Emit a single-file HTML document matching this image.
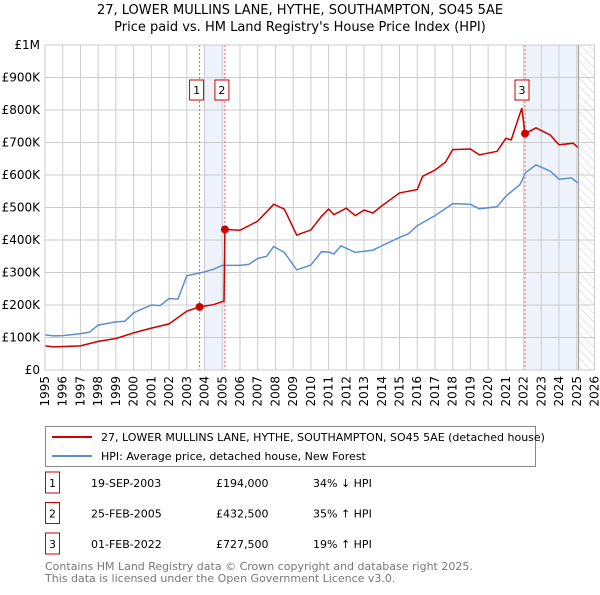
<!DOCTYPE html>
<html><head><meta charset="utf-8"><style>
body{margin:0;background:#fff;font-family:"Liberation Sans","DejaVu Sans",sans-serif;}
svg text{font-family:"DejaVu Sans","Liberation Sans",sans-serif;}
</style></head><body>
<svg id="c" width="600" height="590" viewBox="0 0 600 590" xmlns="http://www.w3.org/2000/svg">
<defs><pattern id="hatch" width="6" height="6" patternUnits="userSpaceOnUse" patternTransform="rotate(-45)"><line x1="0" y1="0" x2="0" y2="6" stroke="#ccc" stroke-width="1"/></pattern></defs>
<text x="300" y="14" text-anchor="middle" font-size="13" fill="#000">27, LOWER MULLINS LANE, HYTHE, SOUTHAMPTON, SO45 5AE</text>
<text x="300" y="31" text-anchor="middle" font-size="13" fill="#000">Price paid vs. HM Land Registry's House Price Index (HPI)</text>
<g id="plot"></g>
<g>
<rect x="45.5" y="426.5" width="490" height="40" fill="#fff" stroke="#888"/>
<line x1="52" y1="437" x2="92" y2="437" stroke="#cc0000" stroke-width="2"/>
<text x="101" y="441" font-size="11">27, LOWER MULLINS LANE, HYTHE, SOUTHAMPTON, SO45 5AE (detached house)</text>
<line x1="52" y1="456" x2="92" y2="456" stroke="#5b8fd0" stroke-width="2"/>
<text x="101" y="460" font-size="11">HPI: Average price, detached house, New Forest</text>
</g>
<g id="table" font-size="11"></g>
<text x="45" y="570" font-size="11" fill="#777">Contains HM Land Registry data © Crown copyright and database right 2025.</text>
<text x="45" y="582" font-size="11" fill="#777">This data is licensed under the Open Government Licence v3.0.</text>
</svg>
<script>
const hpiYears=[1995,1995.5,1996,1997,1997.5,1998,1999,1999.5,2000,2001,2001.5,2002,2002.5,2003,2004,2004.5,2005,2006,2006.5,2007,2007.5,2007.9,2008.5,2009.2,2010,2010.6,2011,2011.3,2011.7,2012.5,2013.5,2014,2015,2015.5,2016,2017,2018,2019,2019.5,2020.5,2021,2021.8,2022.1,2022.7,2023.5,2024,2024.7,2025.05];
const hpiValues=[108,105,106,112,116,138,148,150,176,200,198,220,218,290,302,310,322,322,325,343,350,380,362,308,323,364,363,357,382,362,369,382,408,419,444,475,512,510,496,502,535,571,607,631,612,587,591,576];
const redYears=[1995,1995.5,1997,1998,1999,2000,2001,2002,2003,2003.72,2004.5,2005.1,2005.15,2006,2007,2007.9,2008.5,2009.2,2010,2010.6,2011,2011.3,2012,2012.5,2013,2013.5,2014,2015,2016,2016.3,2017,2017.6,2018,2019,2019.5,2020.5,2021,2021.3,2021.9,2022.08,2022.7,2023.5,2024,2024.8,2025.05];
const redValues=[74,71,74,88,97,114,129,142,181,194,201,212,432.5,430,458,510,495,415,431,473,495,478,498,475,492,483,505,545,555,596,615,640,678,680,662,673,713,708,806,727.5,745,723,693,698,685];
const saleYears=[2003.72,2005.15,2022.08];
const saleValues=[194,432.5,727.5];
const saleLabels=["1","2","3"];
const saleDates=["19-SEP-2003","25-FEB-2005","01-FEB-2022"];
const salePrices=["£194,000","£432,500","£727,500"];
const saleHpi=["34% ↓ HPI","35% ↑ HPI","19% ↑ HPI"];
const yTicks=[0,100,200,300,400,500,600,700,800,900,1000];
const yTickLabels=["£0","£100K","£200K","£300K","£400K","£500K","£600K","£700K","£800K","£900K","£1M"];
const xTicks=[1995,1996,1997,1998,1999,2000,2001,2002,2003,2004,2005,2006,2007,2008,2009,2010,2011,2012,2013,2014,2015,2016,2017,2018,2019,2020,2021,2022,2023,2024,2025,2026];
const NS="http://www.w3.org/2000/svg";
const X0=45,X1=594.5,Y0=370,Y1=45;
const x=v=>X0+(v-1995)/(2026-1995)*(X1-X0);
const y=v=>Y0-v/1000*(Y0-Y1);
const plot=document.getElementById('plot');
function mk(t,a,p){const e=document.createElementNS(NS,t);for(const k in a)e.setAttribute(k,a[k]);(p||plot).appendChild(e);return e;}
let b=mk('rect',{x:x(2004),y:Y1,width:x(2005.15)-x(2004),height:Y0-Y1,fill:'#eef2fb'});


b=mk('rect',{x:x(2022.08),y:Y1,width:x(2025.1)-x(2022.08),height:Y0-Y1,fill:'#eef2fb'});


b=mk('rect',{x:x(2025.1),y:Y1,width:X1-x(2025.1),height:Y0-Y1,fill:'url(#hatch)'});


yTicks.forEach((t,i)=>{
 let l=mk('line',{x1:X0,x2:X1,y1:y(t),y2:y(t),stroke:'#ccc','stroke-width':1});
 
 
 let tx=mk('text',{x:X0-5,y:y(t)+4,'text-anchor':'end','font-size':12});
 tx.textContent=yTickLabels[i];
 
 
});
xTicks.forEach(t=>{
 let l=mk('line',{x1:x(t),x2:x(t),y1:Y1,y2:Y0,stroke:'#ccc','stroke-width':1});
 
 
 let tx=mk('text',{x:0,y:0,'text-anchor':'end','font-size':12,transform:`translate(${x(t)+4},376) rotate(-90)`});
 tx.textContent=t;
 
 
});
let ed=mk('line',{x1:x(2025.1),x2:x(2025.1),y1:Y1,y2:Y0,stroke:'#999','stroke-width':1});


saleYears.forEach(s=>{
 let l=mk('line',{x1:x(s),x2:x(s),y1:Y1,y2:Y0,stroke:'#e66','stroke-width':1,'stroke-dasharray':'2,2'});
 
 
});
function path(xs,vs){return xs.map((v,i)=>(i?'L':'M')+x(v).toFixed(1)+','+y(vs[i]).toFixed(1)).join('');}
let hp=mk('path',{d:path(hpiYears,hpiValues),fill:'none',stroke:'#5b8fd0','stroke-width':1.5});


let rp=mk('path',{d:path(redYears,redValues),fill:'none',stroke:'#cc0000','stroke-width':1.5});


saleYears.forEach((s,i)=>{
 let c=mk('circle',{cx:x(s),cy:y(saleValues[i]),r:4,fill:'#cc0000'});
 
 
 let bx=x(s)-10;
 let g=mk('g',{});
 
 
 mk('rect',{x:bx,y:80,width:14,height:20,fill:'#fff',stroke:'#cc0000'},g);
 let t=mk('text',{x:bx+7,y:94,'text-anchor':'middle','font-size':11},g);
 t.textContent=saleLabels[i];
});
let ax=mk('rect',{x:X0,y:Y1,width:X1-X0,height:Y0-Y1,fill:'none',stroke:'#ccc'});


const tb=document.getElementById('table');
saleLabels.forEach((s,i)=>{
 const cy=483+i*30.5;
 let g=mk('g',{},tb);
 
 
 mk('rect',{x:45.5,y:cy-11,width:14,height:21,fill:'#fff',stroke:'#cc0000'},g);
 let t=mk('text',{x:52.5,y:cy+4,'text-anchor':'middle'},g);t.textContent=s;
 t=mk('text',{x:91,y:cy+4},g);t.textContent=saleDates[i];
 t=mk('text',{x:216,y:cy+4},g);t.textContent=salePrices[i];
 t=mk('text',{x:313,y:cy+4},g);t.textContent=saleHpi[i];
});
</script>
</body></html>
